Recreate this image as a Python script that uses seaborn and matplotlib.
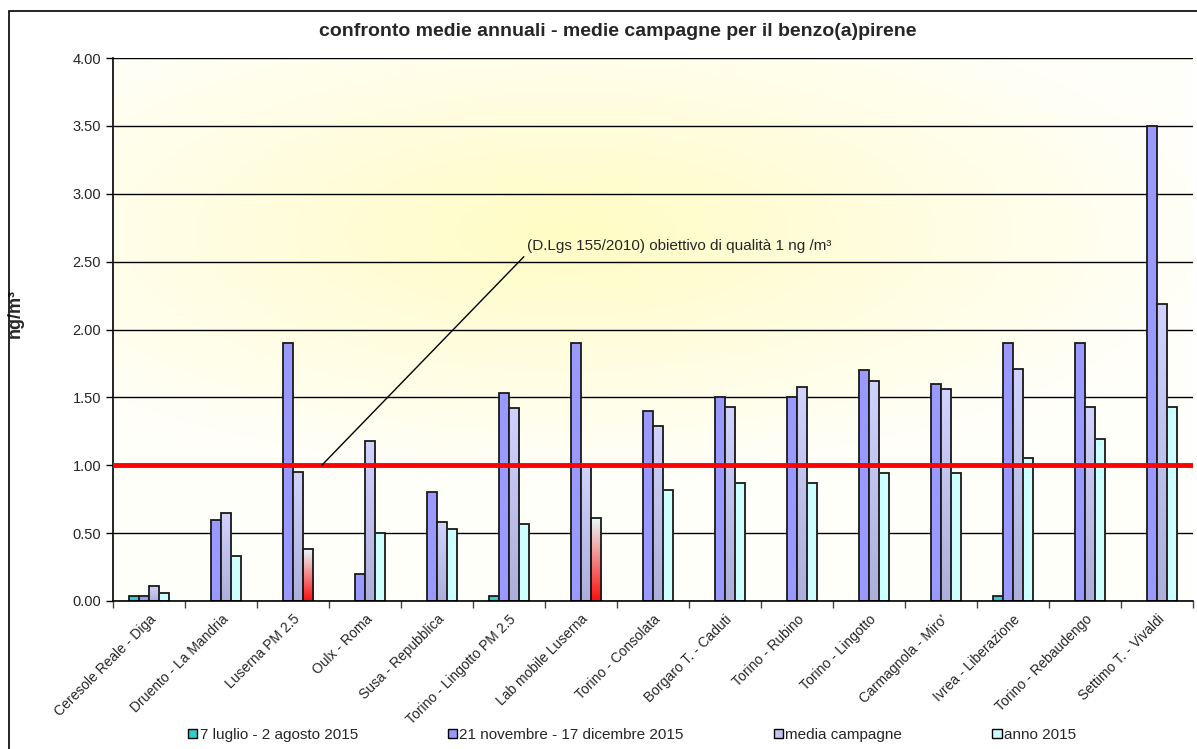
import numpy as np
import pandas as pd
import matplotlib
matplotlib.use("Agg")
import matplotlib.pyplot as plt
import seaborn as sns
from matplotlib.patches import Patch, Rectangle
from matplotlib.colors import LinearSegmentedColormap

# Data (ng/m3)
stazioni = ["Ceresole Reale - Diga", "Druento - La Mandria", "Luserna PM 2.5",
            "Oulx - Roma", "Susa - Repubblica", "Torino - Lingotto PM 2.5",
            "Lab mobile Luserna", "Torino - Consolata", "Borgaro T. - Caduti",
            "Torino - Rubino", "Torino - Lingotto", "Carmagnola - Miro'",
            "Ivrea - Liberazione", "Torino - Rebaudengo", "Settimo T. - Vivaldi"]
nan = np.nan
luglio = [0.04, nan, nan, nan, nan, 0.04, nan, nan, nan, nan, nan, nan, 0.04, nan, nan]
novembre = [0.04, 0.60, 1.90, 0.20, 0.80, 1.53, 1.90, 1.40, 1.50, 1.50, 1.70, 1.60, 1.90, 1.90, 3.50]
media = [0.11, 0.65, 0.95, 1.18, 0.58, 1.42, 1.00, 1.29, 1.43, 1.58, 1.62, 1.56, 1.71, 1.43, 2.19]
anno = [0.06, 0.33, 0.38, 0.50, 0.53, 0.57, 0.61, 0.82, 0.87, 0.87, 0.94, 0.94, 1.05, 1.19, 1.43]

serie = ["7 luglio - 2 agosto 2015", "21 novembre - 17 dicembre 2015",
         "media campagne", "anno 2015"]
colori = ["#33CCCC", "#9999FF", "#C4C4F0", "#CCFFFF"]

df = pd.DataFrame({"stazione": stazioni * 4,
                   "serie": np.repeat(serie, len(stazioni)),
                   "valore": luglio + novembre + media + anno}).dropna()

sns.set_style("white")
plt.rcParams["font.family"] = ["Liberation Sans", "DejaVu Sans"]

fig = plt.figure(figsize=(11.97, 7.49), dpi=100)
ax = fig.add_axes([113 / 1197, 1 - 601 / 749, 1080 / 1197, 543 / 749])

# yellow radial background of the plot area
gx, gy = np.meshgrid(np.linspace(0, 1, 300), np.linspace(0, 1, 300))
d = np.sqrt(((gx - 0.42) / 1.0) ** 2 + ((gy - 0.68) / 0.75) ** 2)
t = np.clip(d / 0.62, 0, 1)
c0 = np.array([255, 252, 196]) / 255
c1 = np.array([255, 255, 250]) / 255
bg = c0[None, None, :] * (1 - t[..., None]) + c1[None, None, :] * t[..., None]
ax.imshow(bg, extent=[0, 1, 0, 1], origin="lower", transform=ax.transAxes,
          aspect="auto", zorder=0)

sns.barplot(data=df, x="stazione", y="valore", hue="serie", order=stazioni,
            hue_order=serie, palette=colori, width=0.56, saturation=1,
            edgecolor="#1a1a1a", linewidth=1.3, errorbar=None, legend=False,
            ax=ax, zorder=2)


def gradiente(patch, top, bottom, z):
    x0, y0 = patch.get_x(), patch.get_y()
    w, h = patch.get_width(), patch.get_height()
    cmap = LinearSegmentedColormap.from_list("g", [bottom, top])
    img = ax.imshow(np.linspace(0, 1, 100).reshape(-1, 1), cmap=cmap, origin="lower",
                    extent=[x0, x0 + w, y0, y0 + h], aspect="auto", zorder=z)
    img.set_clip_path(patch)
    patch.set_facecolor("none")
    patch.set_zorder(z + 0.1)


# media campagne bars have a vertical shading
for p in ax.containers[2]:
    gradiente(p, "#D2D2FF", "#AEAEDA", 2)

# anno 2015 bars in the two Luserna stations shade to red
rossi = [stazioni.index("Luserna PM 2.5"), stazioni.index("Lab mobile Luserna")]
for i in rossi:
    gradiente(ax.containers[3][i], "#E8FAFA", "#FF1010", 2)

ax.axhline(1.0, color="red", lw=3.5, zorder=5)

ax.annotate("(D.Lgs 155/2010) obiettivo di qualità 1 ng /m³", xy=(2.40, 1.0),
            xytext=(5.25, 2.56), textcoords="data", fontsize=11, ha="left", va="bottom",
            arrowprops=dict(arrowstyle="-", color="black", lw=1, shrinkA=0, shrinkB=0,
                            relpos=(0, 0)), zorder=6)

ax.set_xlim(-0.5, len(stazioni) - 0.5)
ax.set_ylim(0, 4)
ax.set_yticks(np.arange(0, 4.01, 0.5))
ax.set_yticklabels([f"{v:.2f}" for v in np.arange(0, 4.01, 0.5)], fontsize=10.5)
ax.yaxis.grid(True, color="black", lw=1)
ax.set_axisbelow(True)
ax.tick_params(axis="y", direction="out", length=5, width=1, color="black", left=True)

ax.set_xticks(range(len(stazioni)))
ax.set_xticklabels(stazioni, rotation=45, ha="right", rotation_mode="anchor", fontsize=10)
ax.set_xticks(np.arange(-0.5, len(stazioni)), minor=True)
ax.tick_params(axis="x", which="major", length=0, pad=8)
ax.tick_params(axis="x", which="minor", direction="out", length=5, width=1,
               color="#444444", bottom=True)

for s in ["top", "right"]:
    ax.spines[s].set_visible(False)
for s in ["left", "bottom"]:
    ax.spines[s].set_color("black")
    ax.spines[s].set_linewidth(1.2)

ax.set_xlabel("")
ax.set_ylabel("ng/m³", fontsize=13, fontweight="bold")
ax.yaxis.set_label_coords(-0.083, 0.53)
fig.suptitle("confronto medie annuali - medie campagne per il benzo(a)pirene",
             x=618 / 1197, y=1 - 32 / 749, va="center", fontsize=14, fontweight="bold")

handles = [Patch(facecolor=c, edgecolor="black", lw=1) for c in colori]
fig.legend(handles, serie, loc="center", bbox_to_anchor=(632 / 1197, 1 - 735 / 749), ncol=4,
           frameon=False, fontsize=11, handlelength=0.6, handleheight=0.6,
           handletextpad=0.15, columnspacing=5.9, borderpad=0)

fig.patches.append(Rectangle((9 / 1197, -0.01), 1.01, 1 - 11 / 749 + 0.01,
                             transform=fig.transFigure, fill=False,
                             edgecolor="black", lw=1.2, zorder=10))

fig.savefig("out.png", dpi=100)
